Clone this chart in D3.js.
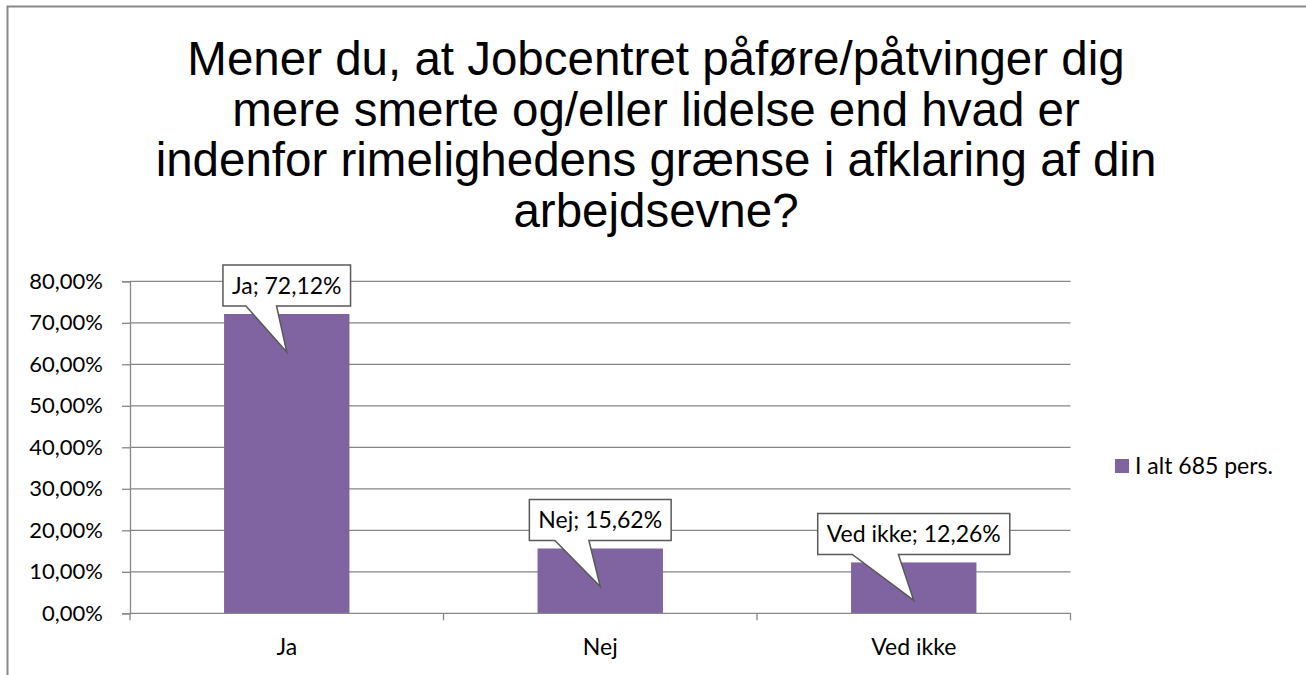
<!DOCTYPE html>
<html>
<head>
<meta charset="utf-8">
<script src="https://cdn.jsdelivr.net/npm/d3@7"></script>
<style>
  body { margin: 0; background: #fff; }
  text { font-family: Lato, "Open Sans", sans-serif; fill: #000; }
</style>
</head>
<body>
<div id="chart"></div>
<script>
var titleLines = [
    "Mener du, at Jobcentret påføre/påtvinger dig",
    "mere smerte og/eller lidelse end hvad er",
    "indenfor rimelighedens grænse i afklaring af din",
    "arbejdsevne?"
];
var categories = ["Ja", "Nej", "Ved ikke"];
var values = [0.7212, 0.1562, 0.1226];
var yTicks = [0, 0.1, 0.2, 0.3, 0.4, 0.5, 0.6, 0.7, 0.8];
var seriesName = "I alt 685 pers.";

var width = 1306, height = 675,
    barColor = "#8064a2",
    gridColor = "#868686",
    labelSize = "23px";

var locale = d3.formatLocale({ decimal: ",", thousands: ".", grouping: [3], currency: ["", " kr"] });
var fmt = locale.format(".2%");

var svg = d3.select("#chart").append("svg")
    .attr("width", width)
    .attr("height", height);

// frame (only top and left visible)
svg.append("path")
    .attr("d", "M7.5," + height + "V6.5H" + width)
    .attr("fill", "none")
    .attr("stroke", "#888")
    .attr("stroke-width", 2);

// title
svg.append("g").selectAll("text")
    .data(titleLines)
    .enter().append("text")
    .attr("x", 656)
    .attr("y", function (d, i) { return 75 + i * 50.5; })
    .attr("text-anchor", "middle")
    .style("font-family", "'Liberation Sans', Arial, sans-serif")
    .style("font-size", "47.5px")
    .text(function (d) { return d; });

var x = d3.scaleBand()
    .domain(categories)
    .range([130, 1070.5])
    .paddingInner(0.6)
    .paddingOuter(0.3);

var y = d3.scaleLinear()
    .domain([0, 0.8])
    .range([613.3, 281.3]);

// gridlines
svg.append("g").selectAll("line")
    .data(yTicks.slice(1))
    .enter().append("line")
    .attr("x1", 130).attr("x2", 1070.5)
    .attr("y1", function (d) { return y(d); })
    .attr("y2", function (d) { return y(d); })
    .attr("stroke", gridColor)
    .attr("stroke-width", 1.3);

// y axis
var yAxis = svg.append("g")
    .attr("transform", "translate(130,0)")
    .call(d3.axisLeft(y).tickValues(yTicks).tickFormat(fmt).tickSize(8).tickPadding(19));
yAxis.select(".domain").attr("stroke", gridColor).attr("stroke-width", 1.3);
yAxis.selectAll(".tick line").attr("stroke", gridColor).attr("stroke-width", 1.3);
yAxis.selectAll(".tick text")
    .style("font-family", "Lato, sans-serif")
    .style("font-size", "22px")
    .attr("fill", "#000");

// bars
svg.append("g").selectAll("rect")
    .data(values)
    .enter().append("rect")
    .attr("x", function (d, i) { return x(categories[i]); })
    .attr("y", function (d) { return y(d); })
    .attr("width", x.bandwidth())
    .attr("height", function (d) { return y(0) - y(d); })
    .attr("fill", barColor);

// x axis
var step = x.step(),
    bounds = d3.range(categories.length + 1).map(function (i) { return 130 + i * step; });
svg.append("line")
    .attr("x1", 130).attr("x2", 1070.5)
    .attr("y1", y(0)).attr("y2", y(0))
    .attr("stroke", gridColor).attr("stroke-width", 1.3);
svg.append("g").selectAll("line")
    .data(bounds)
    .enter().append("line")
    .attr("x1", function (d) { return d; })
    .attr("x2", function (d) { return d; })
    .attr("y1", y(0)).attr("y2", y(0) + 7)
    .attr("stroke", gridColor).attr("stroke-width", 1.3);
svg.append("g").selectAll("text")
    .data(categories)
    .enter().append("text")
    .attr("x", function (d) { return x(d) + x.bandwidth() / 2; })
    .attr("y", 655)
    .attr("text-anchor", "middle")
    .style("font-size", labelSize)
    .text(function (d) { return d; });

// callouts
var callouts = svg.append("g").selectAll("g")
    .data(values)
    .enter().append("g");

callouts.each(function (d, i) {
    var g = d3.select(this),
        cx = x(categories[i]) + x.bandwidth() / 2,
        top = y(d),
        boxBottom = top - 8,
        boxTop = boxBottom - 41,
        tipY = top + 38;
    var path = g.append("path");
    var t = g.append("text")
        .attr("x", cx)
        .attr("y", boxBottom - 12)
        .attr("text-anchor", "middle")
        .style("font-size", labelSize)
        .text(categories[i] + "; " + fmt(d));
    var w = t.node().getComputedTextLength() + 18,
        left = cx - w / 2, right = cx + w / 2;
    path.attr("d", "M" + left + "," + boxTop + "H" + right + "V" + boxBottom +
            "H" + (left + 0.42 * w) + "L" + cx + "," + tipY +
            "L" + (left + 0.18 * w) + "," + boxBottom + "H" + left + "Z")
        .attr("fill", "#fff")
        .attr("stroke", "#595959")
        .attr("stroke-width", 1.5);
});

// legend
var legend = svg.append("g").attr("transform", "translate(1115,459)");
legend.append("rect").attr("width", 14).attr("height", 14).attr("fill", barColor);
legend.append("text")
    .attr("x", 20)
    .attr("y", 15)
    .style("font-size", labelSize)
    .text(seriesName);
</script>
</body>
</html>
